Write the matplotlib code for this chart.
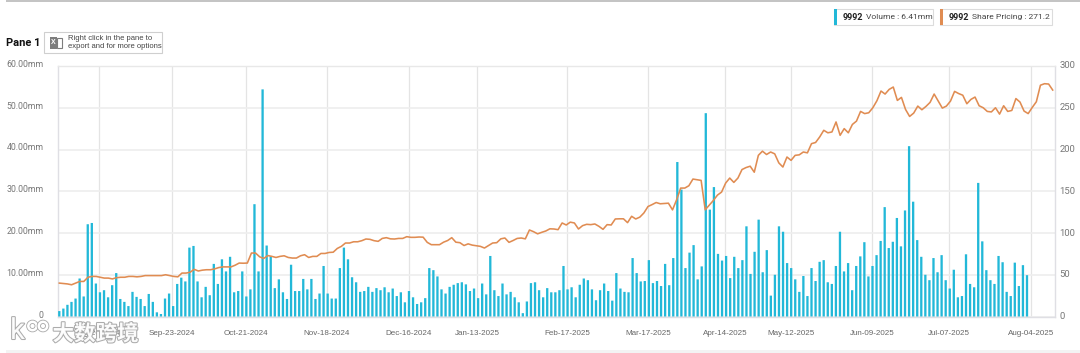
import numpy as np
import matplotlib
matplotlib.use("Agg")
import matplotlib.pyplot as plt
import matplotlib.patheffects as pe
from matplotlib.patches import Rectangle, Circle
from matplotlib.transforms import ScaledTranslation, IdentityTransform

volume = [1.3,1.9,2.8,3.5,4.3,9.1,4.8,22.1,22.4,7.9,5.8,6.3,4.6,7.5,10.4,4.2,3.5,2.5,5.9,4.7,4.2,2.5,5.4,3.5,1.0,0.6,
          4.3,5.5,2.5,7.8,9.3,8.4,16.5,16.9,8.4,4.6,7.1,5.1,12.6,7.8,13.7,10.8,14.3,5.8,6.1,10.8,4.8,6.5,26.9,10.8,54.4,17.0,14.4,
          6.8,8.9,5.8,4.2,12.4,6.1,6.1,9.0,6.5,9.0,4.2,5.5,12.1,5.5,4.3,4.3,11.6,16.5,13.7,9.4,8.2,
          5.9,6.1,7.1,5.9,6.8,6.3,7.0,5.8,6.7,4.9,5.8,3.4,6.1,4.6,3.0,3.4,4.4,11.6,11.1,9.6,6.5,5.5,7.1,7.6,8.0,8.2,7.7,6.1,6.7,
          4.4,7.9,5.3,14.5,6.3,4.9,7.9,5.3,5.9,4.6,3.4,0.8,3.6,8.0,8.2,6.3,4.6,6.8,5.8,5.8,6.3,12.1,6.5,7.0,4.6,7.6,9.1,8.7,6.5,
          3.9,6.3,7.9,6.1,3.8,10.4,6.7,5.9,5.8,14.0,10.4,8.4,8.5,13.5,8.0,8.5,7.3,12.6,7.5,14.0,37.0,30.4,11.6,15.3,17.1,8.9,12.0,
          48.7,25.6,31.0,15.0,
          13.4,14.5,9.2,14.3,11.6,13.5,21.6,10.2,15.5,23.2,10.6,15.9,5.0,10.0,21.6,20.3,12.8,11.6,8.9,5.9,9.7,4.9,11.6,8.5,13.1,13.5,
          8.2,7.8,12.1,20.3,10.8,12.8,6.3,12.1,14.4,17.8,9.6,12.1,14.7,18.1,26.2,16.4,17.9,23.6,16.8,25.4,40.8,27.5,18.3,14.3,10.0,
          8.7,14.0,10.6,14.7,8.7,6.7,11.2,4.6,4.9,14.9,7.8,7.0,32.0,18.0,11.1,8.7,7.8,14.5,13.0,5.9,4.9,12.9,7.3,12.3,9.9]

price = [40,39.5,39,38,40,42,42,47,48,48,47,46,46,45,46.5,47,47,48,48,47.5,48,49,49,49,49,49,50,49,48,47.5,52,52,53,56.5,54.5,55.5,
         56,56,57,58.6,59.4,59.4,59.4,61.4,64,63.8,64,76,76,71.5,69.5,73,72,70.7,72,72.7,70.7,70,70,72.7,74,70.7,72,72,75.5,75.5,
         76.7,77,81.5,84,88,88,89.5,
         89.5,90.8,92.8,92.4,90.8,90,93.5,94.4,93,92.8,93.5,93.5,95.6,94.8,94.8,95.2,95,88.8,86,86,86,89,91,94.4,89,88.4,85,87,85.5,
         84.7,84,82,85,88,88.4,93,94,88.8,91,93.5,94,93,103.6,101.6,99,100.8,102.4,105,104.8,104,112,109.6,113,112,104.8,108.8,110.4,
         110,110.8,108,104.4,110,109.6,116.8,117,117,112.4,120,116.8,119,124,131.7,134,136.5,135,135.3,135.7,127.7,139.7,153.8,153.8,
         156.6,164.6,163.8,163,127.8,133.4,139,145.4,
         149,159.8,165.8,160.6,165.8,176,178.4,180,172.8,193,198,194,197,194.8,184,179,191,187,193,193.6,197,196,207,208.4,215,223,220,221,
         233,217,225,220,230,234,245.6,243,244,250,258.4,270,266.4,272,274.8,258.8,262.4,248,239.6,243.6,252,247.6,251.6,256.4,266.4,258,
         249.6,252,258,269.6,267,265,254.8,260,262.8,252.4,250,245.6,245,250,242.4,252.4,245.6,246.8,261,256.8,246,243,250.4,257.2,277,
         278.8,278.4,271.2]

date_labels = ["Aug-26-2024","Sep-23-2024","Oct-21-2024","Nov-18-2024","Dec-16-2024","Jan-13-2025","Feb-17-2025",
               "Mar-17-2025","Apr-14-2025","May-12-2025","Jun-09-2025","Jul-07-2025","Aug-04-2025"]
vol_ticks = [0,10,20,30,40,50,60]
vol_tick_labels = ["0","10.00mm","20.00mm","30.00mm","40.00mm","50.00mm","60.00mm"]
price_ticks = [0,50,100,150,200,250,300]

W, H = 1080, 353
L, R, T, B = 57.5, 1055.0, 66.0, 316.5
BAR0, BAR1 = 59.3, 1027.0
LINE0, LINE1 = 59.3, 1052.7
TICK_PX = [98.5,172,245.5,326.5,408.7,477.3,567.3,648.3,725,790.7,872.3,949.3,1031]
FONT = "Liberation Sans"
GREY = "#777777"
BLUE = "#22B8D8"
ORANGE = "#E08C52"

fig = plt.figure(figsize=(W/100, H/100), dpi=100, facecolor="white")
pos = [L/W, 1-B/H, (R-L)/W, (B-T)/H]
ax = fig.add_axes(pos)
ax2 = fig.add_axes(pos, frameon=False)

n = len(volume)
s = (BAR1-BAR0)/(n-1)
ax.set_xlim((L-BAR0)/s, (R-BAR0)/s)
bars = ax.bar(np.arange(n), volume, width=2.3/s, color=BLUE, linewidth=0, zorder=3)
for b in bars:
    b.set_snap(False)
ax.set_ylim(0, 60)
ax.set_yticks(vol_ticks)
ax.set_yticklabels(vol_tick_labels, fontfamily="Roboto", fontsize=6.3, color=GREY)
ax.set_xticks([(p-BAR0)/s for p in TICK_PX])
ax.set_xticklabels(date_labels, fontfamily=FONT, fontsize=5.8, color="#666666")
ax.tick_params(axis="both", length=0)
ax.tick_params(axis="x", pad=9.5)
ax.tick_params(axis="y", pad=10)
ax.grid(axis="y", color="#eeeeee", linewidth=1.2, zorder=0)
ax.grid(axis="x", color="#e4e4e4", linewidth=0.9, zorder=0)
ax.set_axisbelow(True)
for sp in ax.spines.values():
    sp.set_color("#dfdfe4")
    sp.set_linewidth(1.0)
ax.spines["top"].set_color("#e8e8e8")
for lb in ax.get_yticklabels():
    lb.set_transform(lb.get_transform() + ScaledTranslation(0, 2.5/100, fig.dpi_scale_trans))

m = len(price)
s2 = (LINE1-LINE0)/(m-1)
ax2.plot(np.arange(m), price, color=ORANGE, linewidth=1.15, solid_joinstyle="round", zorder=5)
ax2.set_xlim((L-LINE0)/s2, (R-LINE0)/s2)
ax2.set_ylim(0, 300)
ax2.set_xticks([])
ax2.yaxis.tick_right()
ax2.set_yticks(price_ticks)
ax2.set_yticklabels([str(v) for v in price_ticks], fontfamily="Roboto", fontsize=6.8, color=GREY)
ax2.tick_params(axis="y", length=0, pad=3)
ax2.patch.set_alpha(0)
for lb in ax2.get_yticklabels():
    lb.set_transform(lb.get_transform() + ScaledTranslation(0, 1/100, fig.dpi_scale_trans))

def fx(x): return x/W
def fy(y): return 1-y/H

def frect(x0, y0, x1, y1, **kw):
    fig.add_artist(Rectangle((fx(x0), fy(y1)), (x1-x0)/W, (y1-y0)/H, transform=fig.transFigure, **kw))

# top rule and bottom band
frect(6, 0, 1080, 1.6, facecolor="#c4c4c4", linewidth=0)
frect(6, 349.5, 1080, 353, facecolor="#f3f3f3", linewidth=0)

# legend boxes
for x0, x1, col, bold, rest in [(834, 932.7, BLUE, "9992", "Volume : 6.41mm"),
                                (940, 1051.7, ORANGE, "9992", "Share Pricing : 271.2")]:
    frect(x0, 9, x1, 24.7, facecolor="white", edgecolor="#dcdcdc", linewidth=0.8)
    frect(x0, 9, x0+3.4, 24.7, facecolor=col, linewidth=0)
    fig.text(fx(x0+9), fy(17), bold, fontfamily="Roboto", fontweight="bold", fontsize=6.4, color="#222222", va="center")
    fig.text(fx(x0+31.5), fy(17), rest, fontfamily="Roboto", fontsize=6.1, color="#444444", va="center")

# pane header
fig.text(fx(6.5), fy(43), "Pane 1", fontfamily="Roboto", fontweight="bold", fontsize=8, color="#111111", va="center")
frect(43.5, 32, 161.5, 52.5, facecolor="white", edgecolor="#cfcfcf", linewidth=0.8)
frect(49.5, 37, 57, 48.5, facecolor="#7d7d7d", linewidth=0)
frect(57, 38, 62, 47.5, facecolor="white", edgecolor="#7d7d7d", linewidth=0.8)
fig.text(fx(53.2), fy(42.8), "X", fontfamily=FONT, fontweight="bold", fontsize=5, color="white", ha="center", va="center")
fig.text(fx(68), fy(38.7), "Right click in the pane to", fontfamily=FONT, fontsize=5.5, color="#444444", va="center")
fig.text(fx(68), fy(46.7), "export and for more options", fontfamily=FONT, fontsize=5.5, color="#444444", va="center")

# watermark
stroke = [pe.withStroke(linewidth=1.5, foreground="#a8a8a8")]
fig.text(fx(95.5), fy(334), "大数跨境", fontfamily=["Noto Sans CJK SC", "DejaVu Sans"], fontsize=15.5, fontweight="bold",
         color="white", ha="center", va="center", alpha=0.95, path_effects=stroke, zorder=20)
fig.text(fx(17.5), fy(331), "k", fontfamily="Roboto", fontsize=21, color="white", ha="center", va="center",
         alpha=0.95, path_effects=stroke, zorder=20)
for cx in (32.5, 43):
    fig.add_artist(Circle((cx, H-326), 4.2, transform=IdentityTransform(),
                          facecolor="none", edgecolor="white", linewidth=1.8, zorder=20,
                          path_effects=[pe.withStroke(linewidth=3.0, foreground="#a8a8a8")]))

fig.savefig("out.png", dpi=100, facecolor="white")
